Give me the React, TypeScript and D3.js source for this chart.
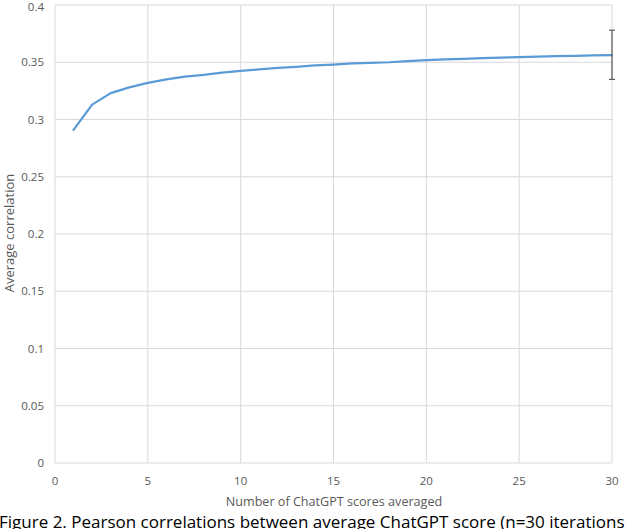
import React from "react";
import * as d3 from "d3";

const xValues = [1,2,3,4,5,6,7,8,9,10,11,12,13,14,15,16,17,18,19,20,21,22,23,24,25,26,27,28,29,30];
const correlations = [0.291,0.313,0.323,0.328,0.332,0.335,0.3375,0.339,0.341,0.3425,0.3438,0.345,0.346,0.3472,0.348,0.349,0.3495,0.350,0.351,0.3518,0.3525,0.353,0.3535,0.354,0.3545,0.355,0.3553,0.3556,0.356,0.3563];
const errorBar = { x: 30, low: 0.335, high: 0.378 };
const xTicks = [0,5,10,15,20,25,30];
const yTicks = [0,0.05,0.1,0.15,0.2,0.25,0.3,0.35,0.4];
const xTitle = "Number of ChatGPT scores averaged";
const yTitle = "Average correlation";
const caption = "Figure 2. Pearson correlations between average ChatGPT score (n=30 iterations";

const W = 640, H = 529;
const FONT = "'Open Sans', 'Noto Sans', sans-serif";

export default function App() {
  const x = d3.scaleLinear().domain([0, 30]).range([55, 612]);
  const y = d3.scaleLinear().domain([0, 0.4]).range([463, 5]);
  const line = d3.line<number>().x((_, i) => x(xValues[i])).y(d => y(d));
  const fmtY = (v: number) => (v === 0 ? "0" : d3.format("")(+v.toFixed(2)));
  return (
    <svg width={W} height={H} style={{ position: "absolute", left: 0, top: 0, background: "#fff" }}>
      {yTicks.map(t => (
        <line key={"gy" + t} x1={x(0)} x2={x(30)} y1={y(t)} y2={y(t)} stroke="#d9d9d9" strokeWidth={1} />
      ))}
      {xTicks.map(t => (
        <line key={"gx" + t} x1={x(t)} x2={x(t)} y1={y(0)} y2={y(0.4)} stroke="#d9d9d9" strokeWidth={1} />
      ))}
      {yTicks.map(t => (
        <text key={"ty" + t} x={44} y={Math.max(y(t), 6.5)} dy="0.35em" textAnchor="end" fontFamily={FONT} fontSize={11.5} fill="#595959">
          {fmtY(t)}
        </text>
      ))}
      {xTicks.map(t => (
        <text key={"tx" + t} x={x(t)} y={481} dy="0.35em" textAnchor="middle" fontFamily={FONT} fontSize={11.5} fill="#595959">
          {t}
        </text>
      ))}
      <path d={line(correlations) || ""} fill="none" stroke="#5b9bd5" strokeWidth={2.25} strokeLinejoin="round" strokeLinecap="round" />
      <g stroke="#595959" strokeWidth={1.2}>
        <line x1={x(errorBar.x)} x2={x(errorBar.x)} y1={y(errorBar.low)} y2={y(errorBar.high)} />
        <line x1={x(errorBar.x) - 3} x2={x(errorBar.x) + 3} y1={y(errorBar.low)} y2={y(errorBar.low)} />
        <line x1={x(errorBar.x) - 3} x2={x(errorBar.x) + 3} y1={y(errorBar.high)} y2={y(errorBar.high)} />
      </g>
      <text x={334} y={502} dy="0.35em" textAnchor="middle" fontFamily={FONT} fontSize={12.6} fill="#595959">
        {xTitle}
      </text>
      <text transform={`translate(9,233) rotate(-90)`} dy="0.35em" textAnchor="middle" fontFamily={FONT} fontSize={13} fill="#595959">
        {yTitle}
      </text>
      <text x={-1} y={528} fontFamily={FONT} fontSize={17} fill="#000">
        {caption}
      </text>
    </svg>
  );
}
